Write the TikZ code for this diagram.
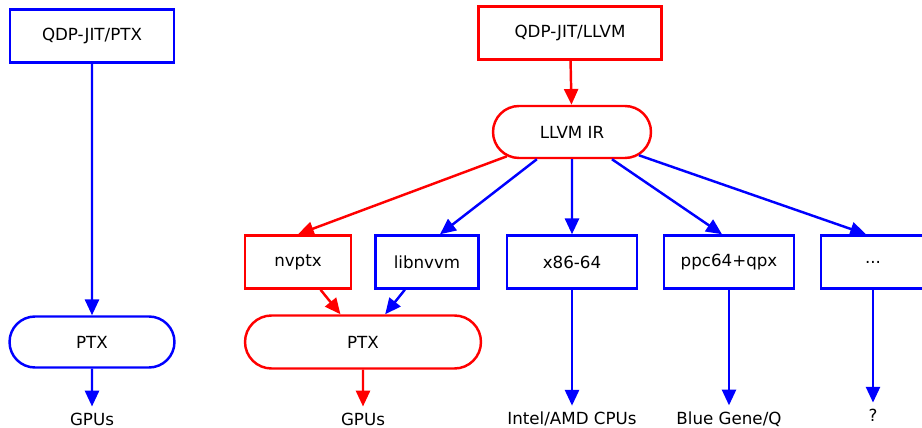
\documentclass[tikz,border=0pt]{standalone}
\usepackage{fontspec}
\setmainfont{DejaVu Sans}
\usetikzlibrary{arrows.meta, shapes.misc, positioning}

\begin{document}
\begin{tikzpicture}[x=0.02cm, y=-0.02cm, font=\fontsize{9.5}{11}\selectfont,
    bluebox/.style={draw=blue, line width=1.4pt, fill=white, inner sep=0pt, minimum height=1.06cm},
    redbox/.style={draw=red, line width=1.4pt, fill=white, inner sep=0pt, minimum height=1.06cm},
    bluepill/.style={rounded rectangle, draw=blue, line width=1.4pt, fill=white, inner sep=0pt, minimum height=1.02cm},
    redpill/.style={rounded rectangle, draw=red, line width=1.4pt, fill=white, inner sep=0pt, minimum height=1.06cm},
    bluearr/.style={blue, line width=1.4pt, -{Triangle[length=9pt, width=8pt]}},
    redarr/.style={red, line width=1.4pt, -{Triangle[length=9pt, width=8pt]}}]
  \useasboundingbox (0,0) rectangle (922,428);
  \clip (0,0) rectangle (922,428);

  % QDP-JIT/PTX
  \node[bluebox, minimum width=3.28cm] (jitptx) at (92,36) {QDP-JIT/PTX};
  \node[bluepill, minimum width=3.30cm] (ptxA) at (92,342) {PTX};
  \node (gpuA) at (92,419) {GPUs};
  \draw[bluearr] (jitptx) -- (ptxA);
  \draw[bluearr] (ptxA) -- (gpuA);

  % QDP-JIT/LLVM
  \node[redbox, minimum width=3.66cm] (jitllvm) at (570,33) {QDP-JIT/LLVM};
  \node[redpill, minimum width=3.16cm, minimum height=1.04cm] (llvmir) at (572,132) {LLVM IR};
  \draw[redarr] (jitllvm) -- (llvmir);

  % Backends
  \node[redbox, minimum width=2.12cm] (nvptx) at (298,262) {nvptx};
  \node[bluebox, minimum width=2.06cm] (libnvvm) at (427,262) {libnvvm};
  \node[bluebox, minimum width=2.60cm] (x86) at (572,262) {x86-64};
  \node[bluebox, minimum width=2.60cm] (ppc) at (729,262) {ppc64+qpx};
  \node[bluebox, minimum width=2.08cm] (etc) at (873,262) {...};
  \draw[redarr] (llvmir) -- (nvptx.north);
  \draw[bluearr] (llvmir) -- ([xshift=0.26cm]libnvvm.north);
  \draw[bluearr] (llvmir) -- (x86);
  \draw[bluearr] (llvmir) -- ([xshift=-0.14cm]ppc.north);
  \draw[bluearr] (llvmir) -- ([xshift=-0.14cm]etc.north);

  % PTX
  \node[redpill, minimum width=4.72cm] (ptxB) at (363,342) {PTX};
  \draw[redarr] (nvptx) -- (ptxB);
  \draw[bluearr] (libnvvm) -- (ptxB);

  % Ziele
  \node (gpuB) at (363,419) {GPUs};
  \node (cpu) at (572,419) {Intel/AMD CPUs};
  \node (bgq) at (729,419) {Blue Gene/Q};
  \node (unk) at (873,415) {?};
  \draw[redarr] (ptxB) -- (gpuB);
  \draw[bluearr] (x86) -- (cpu);
  \draw[bluearr] (ppc) -- (bgq);
  \draw[bluearr] (etc) -- (unk);
\end{tikzpicture}
\end{document}
